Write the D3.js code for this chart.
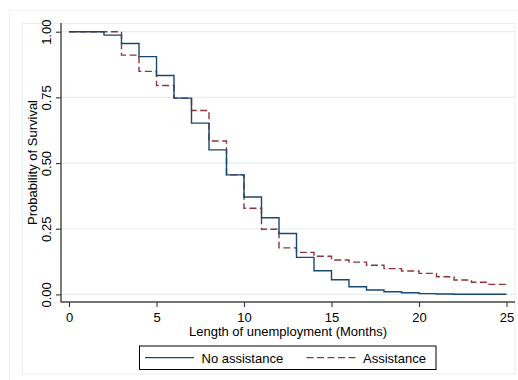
<!DOCTYPE html>
<html><head><meta charset="utf-8">
<script src="https://cdn.jsdelivr.net/npm/d3@7"></script>
<style>
html,body{margin:0;padding:0;background:#fff;}
svg{display:block;font-family:"Liberation Sans",Arial,Helvetica,sans-serif;}
</style></head>
<body><svg id="chart" width="518" height="380"></svg>
<script>
// Kaplan-Meier step values (value holds from month t until next change)
const monthsNoAssist = [0, 2, 3, 4, 5, 6, 7, 8, 9, 10, 11, 12, 13, 14, 15, 16, 17, 18, 19, 20, 21, 22, 25];
const survNoAssist   = [1.000, 0.987, 0.955, 0.905, 0.833, 0.747, 0.652, 0.550, 0.455, 0.371, 0.292, 0.232, 0.141, 0.090, 0.056, 0.029, 0.017, 0.010, 0.006, 0.003, 0.0015, 0.0005, 0.0005];
const monthsAssist   = [0, 3, 4, 5, 6, 7, 8, 9, 10, 11, 12, 13, 14, 15, 16, 17, 18, 19, 20, 21, 22, 23, 24, 25];
const survAssist     = [1.000, 0.911, 0.849, 0.795, 0.747, 0.700, 0.584, 0.455, 0.328, 0.248, 0.177, 0.160, 0.145, 0.131, 0.123, 0.111, 0.098, 0.089, 0.080, 0.067, 0.055, 0.046, 0.038, 0.038];
const xTicks = [0, 5, 10, 15, 20, 25];
const yTicks = [0, 0.25, 0.5, 0.75, 1];
const seriesNames = ["No assistance", "Assistance"];
const xTitle = "Length of unemployment (Months)";
const yTitle = "Probability of Survival";

const svg = d3.select("#chart");
const W = 518, H = 380;
const colors = ["#1a476f", "#90353b"];
const dashes = [null, "7,3.5"];
const faint = "#e6eef0";

// frames
svg.append("rect").attr("x", 9.5).attr("y", 10.5).attr("width", 520).attr("height", 380)
  .attr("fill", "none").attr("stroke", "#edf2f3").attr("stroke-width", 1);
svg.append("rect").attr("x", 22.5).attr("y", 23.5).attr("width", 492.5).attr("height", 350.5)
  .attr("fill", "#fff").attr("stroke", faint).attr("stroke-width", 1);

const plotL = 61, plotR = 515, plotT = 23, plotB = 302;
const x = d3.scaleLinear().domain([0, 25]).range([69, 506.5]);
const y = d3.scaleLinear().domain([0, 1]).range([294.4, 31.7]);

// gridlines
svg.append("g").selectAll("line").data(yTicks).join("line")
  .attr("x1", plotL).attr("x2", plotR)
  .attr("y1", d => y(d)).attr("y2", d => y(d))
  .attr("stroke", faint).attr("stroke-width", 1.2);

// axes
const fmt = d3.format(".2f");
const yAxis = d3.axisLeft(y).tickValues(yTicks).tickFormat(fmt).tickSize(5).tickPadding(0);
const gy = svg.append("g").attr("transform", `translate(${plotL},0)`).call(yAxis);
gy.select(".domain").remove();
gy.selectAll(".tick line").attr("stroke", "#333").attr("stroke-width", 1.1);
gy.selectAll(".tick text").attr("transform", "rotate(-90)").attr("x", 0).attr("y", -10.5)
  .attr("dy", 0).attr("text-anchor", "middle").attr("font-size", 13).attr("fill", "#000")
  .style("font-family", "Liberation Sans, Arial, sans-serif");

const xAxis = d3.axisBottom(x).tickValues(xTicks).tickFormat(d3.format("d")).tickSize(5).tickPadding(0);
const gx = svg.append("g").attr("transform", `translate(0,${plotB})`).call(xAxis);
gx.select(".domain").remove();
gx.selectAll(".tick line").attr("stroke", "#333").attr("stroke-width", 1.1);
gx.selectAll(".tick text").attr("y", 19.5).attr("dy", 0).attr("font-size", 13).attr("fill", "#000")
  .style("font-family", "Liberation Sans, Arial, sans-serif");

// axis lines
svg.append("line").attr("x1", plotL).attr("x2", plotL).attr("y1", plotT).attr("y2", plotB + 0.6)
  .attr("stroke", "#444").attr("stroke-width", 1.4);
svg.append("line").attr("x1", plotL).attr("x2", plotR).attr("y1", plotB).attr("y2", plotB)
  .attr("stroke", "#444").attr("stroke-width", 1.4);

// step lines
const line = d3.line().x(d => x(d[0])).y(d => y(d[1])).curve(d3.curveStepAfter);
const series = [
  d3.zip(monthsNoAssist, survNoAssist),
  d3.zip(monthsAssist, survAssist)
];
[1, 0].forEach(i => {
  svg.append("path").datum(series[i]).attr("d", line)
    .attr("fill", "none").attr("stroke", colors[i]).attr("stroke-width", 1.4)
    .attr("stroke-dasharray", dashes[i]);
});

// titles
svg.append("text").attr("x", 288).attr("y", 335.5).attr("text-anchor", "middle")
  .attr("font-size", 13).attr("fill", "#000").text(xTitle);
svg.append("text").attr("transform", `translate(36.5,162.5) rotate(-90)`).attr("text-anchor", "middle")
  .attr("font-size", 13).attr("fill", "#000").text(yTitle);

// legend
const lg = svg.append("g");
lg.append("rect").attr("x", 139.5).attr("y", 346).attr("width", 296.5).attr("height", 23.5)
  .attr("fill", "#fff").attr("stroke", "#000").attr("stroke-width", 1);
const items = [
  {x1: 145, x2: 194, tx: 201.5},
  {x1: 306.5, x2: 356, tx: 363}
];
items.forEach((it, i) => {
  lg.append("line").attr("x1", it.x1).attr("x2", it.x2).attr("y1", 357.7).attr("y2", 357.7)
    .attr("stroke", colors[i]).attr("stroke-width", 1.2).attr("stroke-dasharray", dashes[i]);
  lg.append("text").attr("x", it.tx).attr("y", 362.5).attr("font-size", 13).attr("fill", "#000")
    .text(seriesNames[i]);
});
</script></body></html>
